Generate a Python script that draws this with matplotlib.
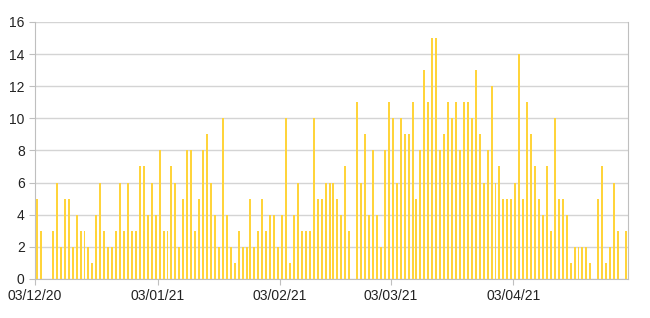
import pandas as pd
import matplotlib
matplotlib.use("Agg")
import matplotlib.pyplot as plt
import matplotlib.dates as mdates

# Daily counts, 03/12/20 .. 01/05/21
start_date = "2020-12-03"
counts_dec = [5, 3, 0, 0, 3, 6, 2, 5, 5, 2, 4, 3, 3, 2, 1, 4, 6, 3, 2, 2, 3, 6, 3, 6, 3,
              3, 7, 7, 4, 6, 4]
counts_jan = [8, 3, 3, 7, 6, 2, 5, 8, 8, 3, 5, 8, 9, 6, 4, 2, 10, 4, 2,
              1, 3, 2, 2, 5, 2, 3, 5, 3, 4, 4, 2]
counts_feb = [4, 10, 1, 4, 6, 3, 3, 3, 10, 5, 5, 6, 6, 6,
              5, 4, 7, 3, 0, 11, 6, 9, 4, 8, 4, 2, 8, 11]
counts_mar = [10, 6, 10, 9, 9, 11, 5, 8, 13, 11, 15,
              15, 8, 9, 11, 10, 11, 8, 11, 11, 10, 13, 9, 6, 8, 12, 6, 7, 5, 5, 5]
counts_apr = [6, 14, 5, 11, 9, 7,
              5, 4, 7, 3, 10, 5, 5, 4, 1, 2, 2, 2, 2, 1, 0, 5, 7, 1, 2, 6, 3, 0, 3]

counts = counts_dec + counts_jan + counts_feb + counts_mar + counts_apr
days = pd.date_range(start_date, periods=len(counts), freq="D")
tick_dates = pd.to_datetime(["2020-12-03", "2021-01-03", "2021-02-03",
                             "2021-03-03", "2021-04-03"])

plt.rcParams["font.family"] = ["Liberation Sans", "DejaVu Sans"]

fig = plt.figure(figsize=(6.5, 3.18), dpi=100)
ax = fig.add_axes([0.054, 0.123, 0.912, 0.808])

ax.bar(days + pd.Timedelta(hours=12), counts, width=0.5, color="#FFD43B", zorder=3)

ax.set_xlim(days[0], days[-1] + pd.Timedelta(days=1))
ax.set_ylim(0, 16)
ax.set_yticks(range(0, 17, 2))
ax.set_xticks(tick_dates)
ax.xaxis.set_major_formatter(mdates.DateFormatter("%d/%m/%y"))

ax.grid(axis="y", color="#d4d4d4", linewidth=1, zorder=0)
for side in ["left", "bottom", "right"]:
    ax.spines[side].set_color("#bfbfbf")
ax.spines["top"].set_visible(False)
ax.tick_params(axis="both", colors="#bfbfbf", labelcolor="#222222",
               labelsize=10, length=4)
ax.tick_params(axis="x", pad=3)

fig.savefig("out.png", dpi=100)
